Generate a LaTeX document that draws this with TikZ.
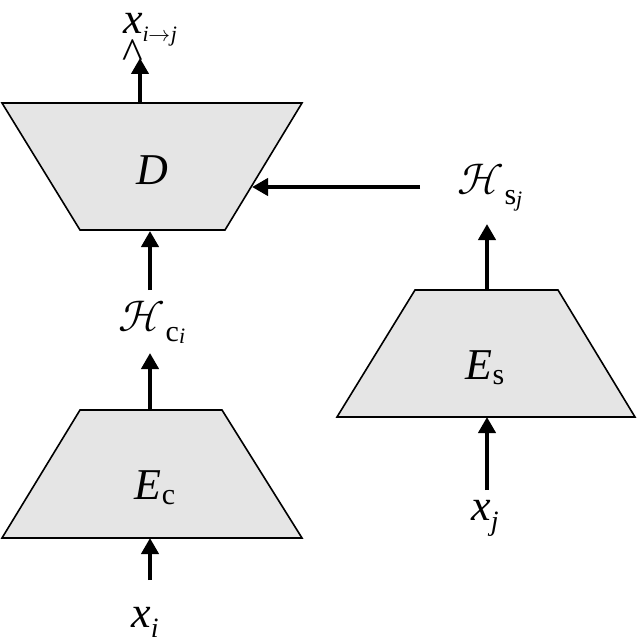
\documentclass[tikz,border=0pt]{standalone}
\usepackage{fontspec}
\usepackage{unicode-math}
\setmainfont{Liberation Serif}
\setmathfont{Latin Modern Math}
\newfontfamily\tnr{Liberation Serif}
\usetikzlibrary{arrows.meta}
\newcommand{\bigtxt}[1]{{\tnr\fontsize{44}{50}\selectfont #1}}
\newcommand{\subtxt}[2]{\raisebox{#1}{\tnr\fontsize{30}{30}\selectfont #2}}
\newcommand{\ssubtxt}[2]{\raisebox{#1}{\tnr\itshape\fontsize{22}{22}\selectfont #2}}
\begin{document}
\begin{tikzpicture}[x=1pt,y=-1pt,
  block/.style={draw=black,line width=1.6pt,fill=black!10},
  arr/.style={line width=4.5pt,-{Triangle[length=16pt,width=17pt]}},
  lbl/.style={inner sep=0pt}]
\useasboundingbox (0,0) rectangle (637,644);
\draw[block] (2,103) -- (302,103) -- (225,230) -- (80,230) -- cycle;
\draw[block] (80,410) -- (222,410) -- (302,538) -- (2,538) -- cycle;
\draw[block] (415,290) -- (558,290) -- (635,417) -- (337,417) -- cycle;
\node[lbl] (D) at (152,170) {\bigtxt{\itshape D}};
\node[lbl] (Ec) at (155,488) {\bigtxt{\itshape E}\subtxt{-5pt}{c}};
\node[lbl] (Es) at (485,368) {\bigtxt{\itshape E}\subtxt{-5pt}{s}};
\node[lbl] (Hc) at (152,322) {\bigtxt{$\mathcal{H}$}\subtxt{-10pt}{c}\ssubtxt{-12pt}{i}};
\node[lbl] (Hs) at (490,188) {\bigtxt{$\mathcal{H}$}\subtxt{-10pt}{s}\ssubtxt{-12pt}{j}};
\node[lbl] (xi) at (145,622) {\bigtxt{\itshape x}\ssubtxt{-10pt}{\fontsize{28}{28}\selectfont i}};
\node[lbl] (xj) at (485,518) {\bigtxt{\itshape x}\ssubtxt{-10pt}{\fontsize{28}{28}\selectfont j}};
\node[lbl] (xh) at (150,30) {\bigtxt{\itshape x}\ssubtxt{-8pt}{i$\to$j}};
\node[lbl] at ([xshift=-17pt,yshift=-24pt]xh.center) {\bigtxt{\^{}}};
\coordinate (a1) at (150,580); \coordinate (a2) at (150,538);
\draw[arr] (a1) -- (a2);
\coordinate (b1) at (150,410); \coordinate (b2) at (150,353);
\draw[arr] (b1) -- (b2);
\coordinate (c1) at (150,290); \coordinate (c2) at (150,231);
\draw[arr] (c1) -- (c2);
\coordinate (d1) at (140,103); \coordinate (d2) at (140,58);
\draw[arr] (d1) -- (d2);
\coordinate (e1) at (487,490); \coordinate (e2) at (487,417);
\draw[arr] (e1) -- (e2);
\coordinate (f1) at (487,290); \coordinate (f2) at (487,224);
\draw[arr] (f1) -- (f2);
\coordinate (g1) at (420,187); \coordinate (g2) at (252,187);
\draw[arr] (g1) -- (g2);
\end{tikzpicture}
\end{document}
